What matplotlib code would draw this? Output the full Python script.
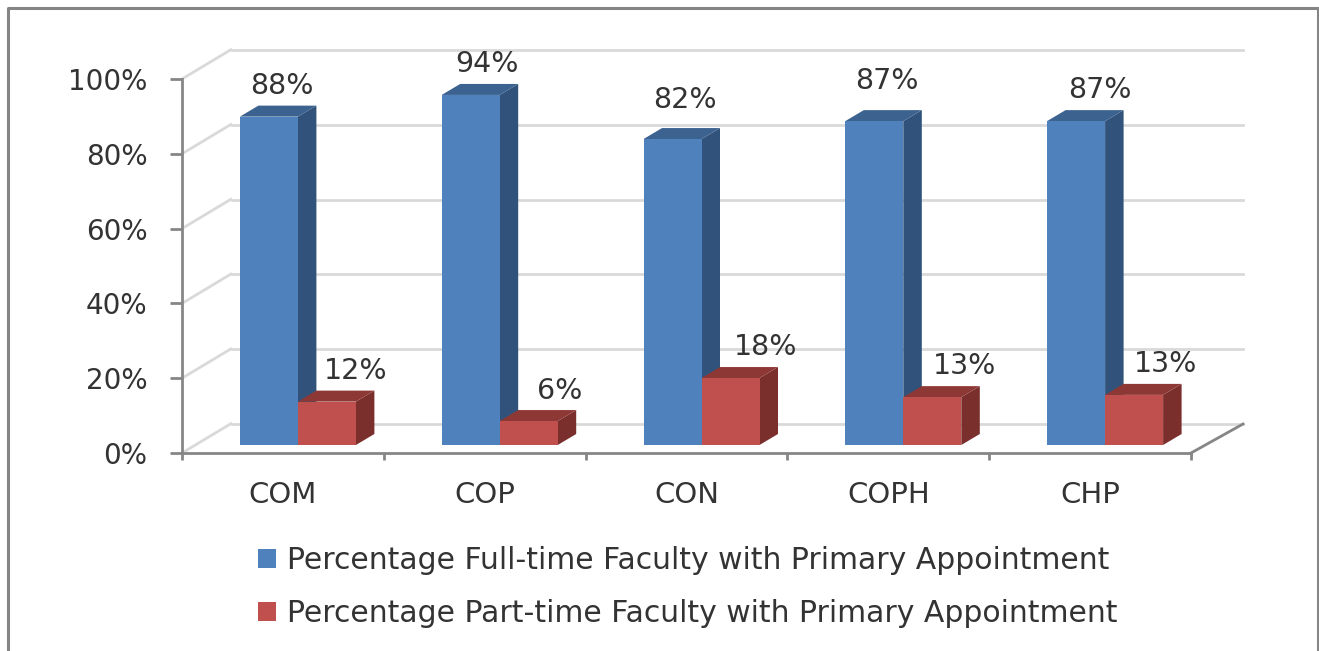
import matplotlib.pyplot as plt
from matplotlib.lines import Line2D
from matplotlib.patches import Patch, Polygon

categories = ["COM", "COP", "CON", "COPH", "CHP"]
full_time = [87.8, 93.6, 81.8, 86.6, 86.6]
part_time = [11.6, 6.4, 17.9, 12.8, 13.4]
y_ticks = [0, 20, 40, 60, 80, 100]
y_labels = ["0%", "20%", "40%", "60%", "80%", "100%"]
legend_labels = ["Percentage Full-time Faculty with Primary Appointment",
                 "Percentage Part-time Faculty with Primary Appointment"]

# data label nudges in pixels, centre of the text relative to the back top edge
full_nudge = [(-6, 20), (-2, 20), (-6, 28), (-6, 29), (5, 20)]
part_nudge = [(10, 20), (12, 19), (17, 20), (14, 20), (13, 20)]

W, H = 1319, 651
fig = plt.figure(figsize=(W / 100, H / 100), dpi=100)
ax = fig.add_axes([182 / W, (H - 453) / H, 1009 / W, 374 / H])
ax.set_xlim(0, 5)
ax.set_ylim(0, 100)

PX = 5 / 1009
PY = 100 / 374
text_col = "#333333"
axis_col = "#868686"
grid_col = "#d9d9d9"


def pline(x0, y0, dx, dy, **kw):
    ax.plot([x0, x0 + dx * PX], [y0, y0 + dy * PY], clip_on=False, **kw)


# back wall and side wall
for v in y_ticks:
    pline(0, v, 50, 30, color=grid_col, lw=2, zorder=1, solid_capstyle="butt")
    ax.plot([50 * PX, 5 + 52 * PX], [v + 29 * PY] * 2, color=grid_col, lw=2,
            clip_on=False, zorder=1)
pline(5, 0, 52, 29, color=axis_col, lw=2, zorder=1)

BAR = 58 * PX
DX = 18.5 * PX
DY = 11 * PY
BASE = 8 * PY


def box(left, val, front, side, top):
    h = BASE + val
    ax.bar(left, val, BAR, bottom=BASE, align="edge", color=front, zorder=3)
    r = left + BAR
    ax.add_patch(Polygon([(r, BASE), (r + DX, BASE + DY), (r + DX, h + DY), (r, h)],
                         facecolor=side, edgecolor="none", zorder=2.5))
    ax.add_patch(Polygon([(left, h), (left + DX, h + DY), (r + DX, h + DY), (r, h)],
                         facecolor=top, edgecolor="none", zorder=2.5))


for i in range(5):
    split = i + 0.5 + 15 * PX
    box(split - BAR, full_time[i], "#4f81bd", "#31527a", "#3c6290")
    box(split, part_time[i], "#c0504d", "#7a2f2d", "#8e3836")
    ax.annotate(f"{full_time[i]:.0f}%", (split - BAR + DX + BAR / 2, BASE + full_time[i] + DY),
                xytext=full_nudge[i], textcoords="offset pixels", ha="center", va="center",
                fontsize=20.5, color=text_col, annotation_clip=False, zorder=5)
    ax.annotate(f"{part_time[i]:.0f}%", (split + DX + BAR / 2, BASE + part_time[i] + DY),
                xytext=part_nudge[i], textcoords="offset pixels", ha="center", va="center",
                fontsize=20.5, color=text_col, annotation_clip=False, zorder=5)

ax.patch.set_visible(False)
for s in ["top", "right"]:
    ax.spines[s].set_visible(False)
for s in ["left", "bottom"]:
    ax.spines[s].set_color(axis_col)
    ax.spines[s].set_linewidth(2)
    ax.spines[s].set_zorder(4)

ax.set_yticks(y_ticks, y_labels, fontsize=20, color=text_col)
ax.tick_params(axis="y", length=8.5, width=2, color=axis_col, pad=16.5)
ax.set_xticks(range(6), [""] * 6)
ax.tick_params(axis="x", length=5, width=2, color=axis_col)
ax.set_xticks([i + 0.5 for i in range(5)], categories, minor=True, fontsize=21, color=text_col)
ax.tick_params(axis="x", which="minor", length=0, pad=20)

handles = [Patch(facecolor="#4f81bd"), Patch(facecolor="#c0504d")]
fig.legend(handles, legend_labels, loc="upper left", bbox_to_anchor=(258 / W, 1 - 546 / H),
           frameon=False, fontsize=21.5, labelcolor=text_col, handlelength=0.6, handleheight=0.6,
           handletextpad=0.37, labelspacing=0.8, borderpad=0, borderaxespad=0)

# outer frame, no line along the bottom edge
fx = [7.5 / W, 7.5 / W, 1318 / W, 1318 / W]
fy = [0, 1 - 7.5 / H, 1 - 7.5 / H, 0]
fig.add_artist(Line2D(fx, fy, color="#858585", lw=2.2))

fig.savefig("out.png", dpi=100)
